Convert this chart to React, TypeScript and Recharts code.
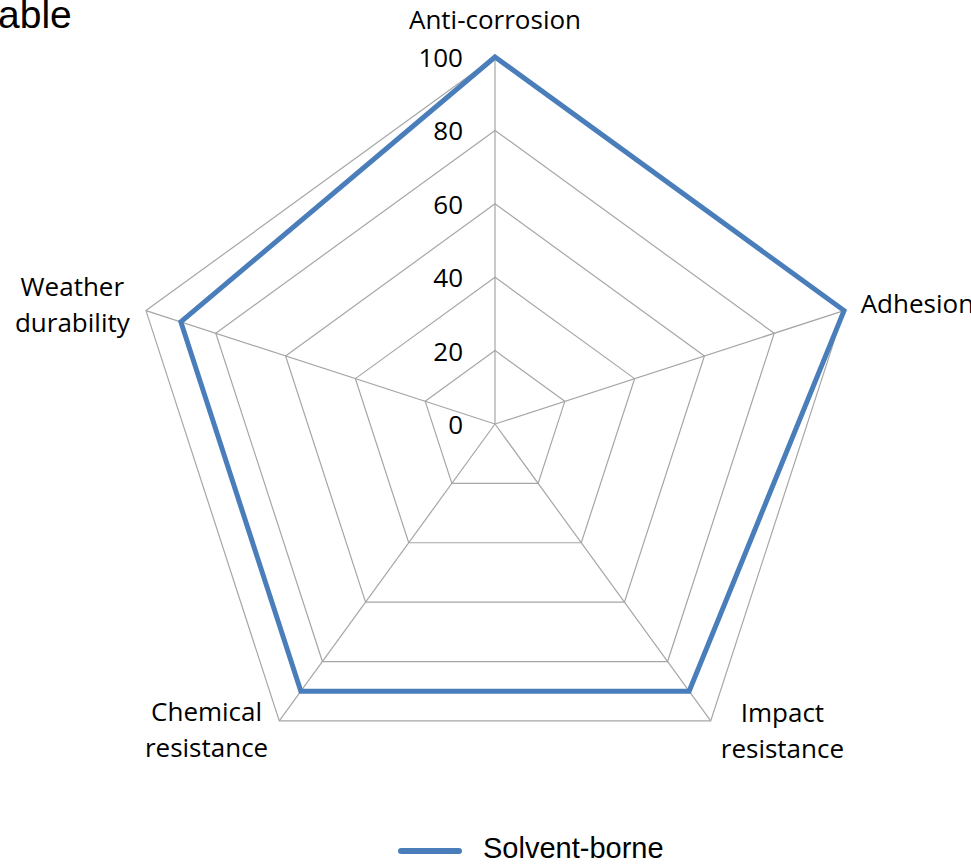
import React from "react";
import {
  RadarChart,
  Radar,
  PolarGrid,
  PolarAngleAxis,
  PolarRadiusAxis,
  Legend,
} from "recharts";

const categories = [
  "Anti-corrosion",
  "Adhesion",
  "Impact resistance",
  "Chemical resistance",
  "Weather durability",
];
const solventBorne = [100, 100, 90, 90, 90];
const radiusTicks = [0, 20, 40, 60, 80, 100];
const seriesName = "Solvent-borne";

const data = categories.map((c, i) => ({ category: c, value: solventBorne[i] }));

const BLUE = "#4a7ebb";
const GRID = "#a6a6a6";
const LABEL_FONT = "'Open Sans', 'Noto Sans', sans-serif";

// label offsets from the tick anchor recharts gives us (dx, dy of first baseline, anchor)
const labelPlacement: { dx: number; dy: number; anchor: "start" | "middle" | "end" }[] = [
  { dx: 0, dy: -20, anchor: "middle" },
  { dx: 9, dy: 5, anchor: "start" },
  { dx: 67, dy: -5, anchor: "middle" },
  { dx: -68, dy: -6, anchor: "middle" },
  { dx: -66, dy: -12, anchor: "middle" },
];

function AngleTick(props: any) {
  const { x, y, payload } = props;
  const idx = categories.indexOf(payload.value);
  const p = labelPlacement[idx] ?? { dx: 0, dy: 0, anchor: "middle" };
  const lines = String(payload.value).split(" ");
  return (
    <text
      x={x + p.dx}
      y={y + p.dy}
      textAnchor={p.anchor}
      fontFamily={LABEL_FONT}
      fontSize={26}
      fill="#000"
    >
      {lines.map((l, i) => (
        <tspan key={i} x={x + p.dx} dy={i === 0 ? 0 : 36}>
          {l}
        </tspan>
      ))}
    </text>
  );
}

function RadiusTick(props: any) {
  const { x, y, payload } = props;
  return (
    <text
      x={x - 32}
      y={y}
      textAnchor="end"
      dominantBaseline="central"
      fontFamily={LABEL_FONT}
      fontSize={26}
      fill="#000"
    >
      {payload.value}
    </text>
  );
}

function LegendContent() {
  return (
    <svg width={971} height={46} style={{ display: "block" }}>
      <line x1={401} y1={31} x2={459} y2={31} stroke={BLUE} strokeWidth={6} strokeLinecap="round" />
      <text x={483} y={38} fontFamily="'Liberation Sans', Arial, sans-serif" fontSize={29} fill="#000">
        {seriesName}
      </text>
    </svg>
  );
}

export default function App() {
  return (
    <div style={{ position: "absolute", left: 0, top: 0, width: 971, height: 866, background: "#fff", overflow: "hidden" }}>
      <div
        style={{
          position: "absolute",
          left: -2,
          top: -7,
          fontFamily: "'Liberation Sans', Arial, sans-serif",
          fontSize: 39,
          color: "#000",
          lineHeight: "normal",
        }}
      >
        able
      </div>
      <RadarChart
        width={971}
        height={866}
        data={data}
        cx={495}
        cy={424}
        outerRadius={367}
        margin={{ top: 0, right: 0, bottom: 0, left: 0 }}
      >
        <PolarGrid gridType="polygon" stroke={GRID} strokeWidth={1.2} />
        <PolarAngleAxis dataKey="category" tick={<AngleTick />} tickLine={false} axisLine={false} />
        <PolarRadiusAxis
          angle={90}
          domain={[0, 100]}
          ticks={radiusTicks}
          tickCount={6}
          axisLine={false}
          tickLine={false}
          tick={<RadiusTick />}
        />
        <Radar
          name={seriesName}
          dataKey="value"
          stroke={BLUE}
          strokeWidth={5}
          fill="none"
          fillOpacity={0}
          dot={false}
          isAnimationActive={false}
        />
        <Legend
          content={<LegendContent />}
          wrapperStyle={{ position: "absolute", left: 0, top: 820, width: 971, height: 46 }}
        />
      </RadarChart>
    </div>
  );
}
